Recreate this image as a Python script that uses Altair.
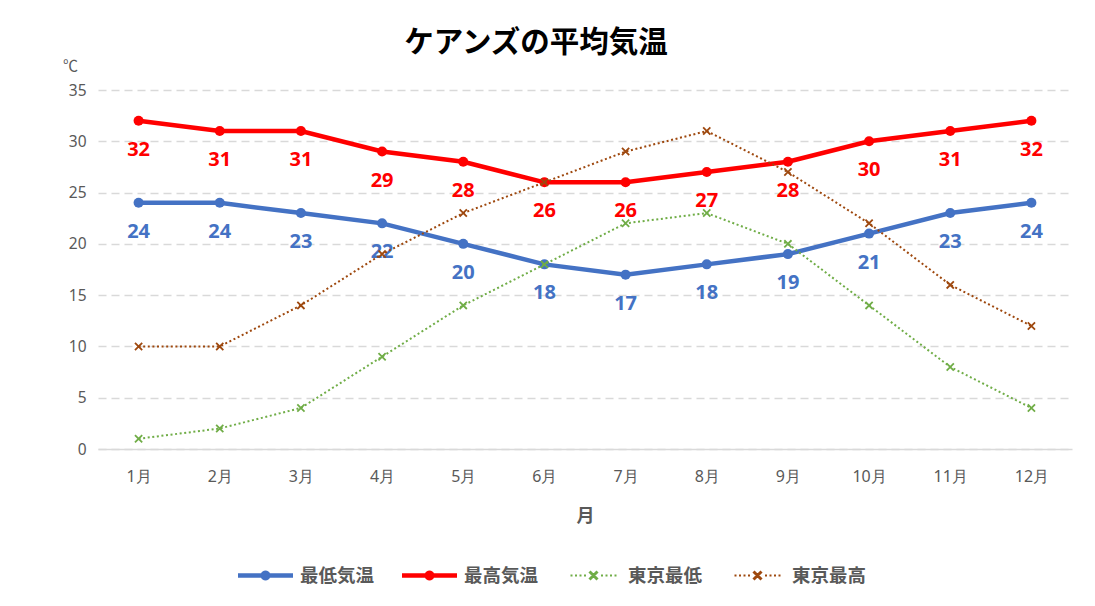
import math
import altair as alt
import pandas as pd

months = ["1月", "2月", "3月", "4月", "5月", "6月", "7月", "8月", "9月", "10月", "11月", "12月"]
series = ["最低気温", "最高気温", "東京最低", "東京最高"]
colors = ["#4472C4", "#FF0000", "#70AD47", "#9E480E"]
cairns_min = [24, 24, 23, 22, 20, 18, 17, 18, 19, 21, 23, 24]
cairns_max = [32, 31, 31, 29, 28, 26, 26, 27, 28, 30, 31, 32]
tokyo_min = [1, 2, 4, 9, 14, 18, 22, 23, 20, 14, 8, 4]
tokyo_max = [10, 10, 14, 19, 23, 26, 29, 31, 27, 22, 16, 12]

values = [cairns_min, cairns_max, tokyo_min, tokyo_max]
rows = []
for s, vals in zip(series, values):
    for m, v in zip(months, vals):
        rows.append({"月": m, "系列": s, "気温": v})
df = pd.DataFrame(rows)

FONT = "Noto Sans CJK JP"
GRAY = "#595959"

# ---- legend symbol paths (unit coords, symbol spans [-1, 1]) ----
U = 1 / 27.5  # one pixel in unit coords (symbol ~55 px wide)


def rect(x0, y0, x1, y1):
    return f"M{x0:.4f},{y0:.4f}L{x1:.4f},{y0:.4f}L{x1:.4f},{y1:.4f}L{x0:.4f},{y1:.4f}Z"


def circle(r, n=20):
    pts = []
    for i in range(n):
        a = 2 * math.pi * i / n
        pts.append(f"{r * math.cos(a):.4f},{r * math.sin(a):.4f}")
    return "M" + "L".join(pts) + "Z"


def xmark(h, t):
    # two thin diagonal bars, both drawn clockwise
    d = t / math.sqrt(2)
    p1 = [(-h + d, -h - d), (h + d, h - d), (h - d, h + d), (-h - d, -h + d)]
    p2 = [(h - d, -h - d), (h + d, -h + d), (-h + d, h + d), (-h - d, h - d)]
    out = ""
    for p in (p1, p2):
        out += "M" + "L".join(f"{x:.4f},{y:.4f}" for x, y in p) + "Z"
    return out


solid_sym = rect(-1, -2.2 * U, 1, 2.2 * U) + circle(5 * U)
dot_xs = [-22, -17.5, -13, -8.5, 8.5, 13, 17.5, 22]
dotted_sym = "".join(rect((x - 1) * U, -1 * U, (x + 1) * U, 1 * U) for x in dot_xs) + xmark(4 * U, 1.5 * U)
legend_shapes = [solid_sym, solid_sym, dotted_sym, dotted_sym]

X_PATH = "M-1,-1L1,1M-1,1L1,-1"

color_scale = alt.Scale(domain=series, range=colors)

x_enc = alt.X(
    "月:N",
    sort=months,
    axis=alt.Axis(
        title="月",
        labelAngle=0,
        ticks=False,
        domainColor="#D9D9D9",
        domainWidth=1.5,
        labelColor=GRAY,
        labelFontSize=16,
        labelFont="Noto Sans",
        labelPadding=19,
        titleFont=FONT,
        titleFontSize=18,
        titleFontWeight="bold",
        titleColor=GRAY,
        titlePadding=23,
        grid=False,
    ),
)
y_enc = alt.Y(
    "気温:Q",
    scale=alt.Scale(domain=[0, 35], nice=False),
    axis=alt.Axis(
        title="℃",
        values=[0, 5, 10, 15, 20, 25, 30, 35],
        domain=False,
        ticks=False,
        labelColor=GRAY,
        labelFontSize=15.5,
        labelFont="Noto Sans",
        labelPadding=12,
        gridColor="#D9D9D9",
        gridDash=[8, 5],
        gridWidth=1.5,
        titleAngle=0,
        titleX=-28,
        titleY=-25,
        titleAlign="center",
        titleBaseline="middle",
        titleFont=FONT,
        titleFontSize=15,
        titleFontWeight="normal",
        titleColor=GRAY,
    ),
)
color_nolegend = alt.Color("系列:N", scale=color_scale, legend=None)

base = alt.Chart(df)
cairns = base.transform_filter(alt.FieldOneOfPredicate(field="系列", oneOf=series[:2]))
tokyo = base.transform_filter(alt.FieldOneOfPredicate(field="系列", oneOf=series[2:]))

legend_layer = base.transform_filter("false").mark_point(filled=True, opacity=1).encode(
    x=x_enc,
    y=y_enc,
    color=alt.Color(
        "系列:N",
        scale=color_scale,
        legend=alt.Legend(
            title=None,
            orient="none",
            direction="horizontal",
            legendX=140,
            legendY=458,
            labelOffset=7,
            columnPadding=27,
        ),
    ),
    shape=alt.Shape("系列:N", scale=alt.Scale(domain=series, range=legend_shapes)),
)

cairns_lines = cairns.mark_line(strokeWidth=4.5).encode(x=x_enc, y=y_enc, color=color_nolegend, detail="系列:N")
cairns_pts = cairns.mark_point(filled=True, size=100, opacity=1, shape="circle").encode(
    x=x_enc, y=y_enc, color=color_nolegend
)
cairns_labels = cairns.mark_text(
    dy=29, fontSize=20, fontWeight="bold", font="Noto Sans", baseline="middle"
).encode(x=x_enc, y=y_enc, text="気温:Q", color=color_nolegend)

tokyo_lines = tokyo.mark_line(strokeWidth=2, strokeDash=[2, 2.6]).encode(
    x=x_enc, y=y_enc, color=color_nolegend, detail="系列:N"
)
tokyo_pts = tokyo.mark_point(filled=False, shape=X_PATH, size=52, strokeWidth=1.8, opacity=1).encode(
    x=x_enc, y=y_enc, color=color_nolegend
)

chart = (
    alt.layer(legend_layer, cairns_lines, cairns_pts, cairns_labels, tokyo_lines, tokyo_pts)
    .properties(
        width=974,
        height=359,
        autosize=alt.AutoSizeParams(type="none"),
        padding={"left": 90, "top": 82, "right": 15, "bottom": 150},
        title=alt.Title(
            "ケアンズの平均気温",
            font=FONT,
            fontSize=29.5,
            fontWeight="bold",
            color="#000000",
            anchor="middle",
            dx=-49,
            offset=0,
        ),
    )
    .configure_view(stroke=None)
    .configure_legend(
        symbolSize=3025,
        symbolStrokeWidth=0,
        labelFont=FONT,
        labelFontSize=18.5,
        labelFontWeight="bold",
        labelColor=GRAY,
    )
)

chart.save("out.html", embed_options={"renderer": "svg", "actions": False})
